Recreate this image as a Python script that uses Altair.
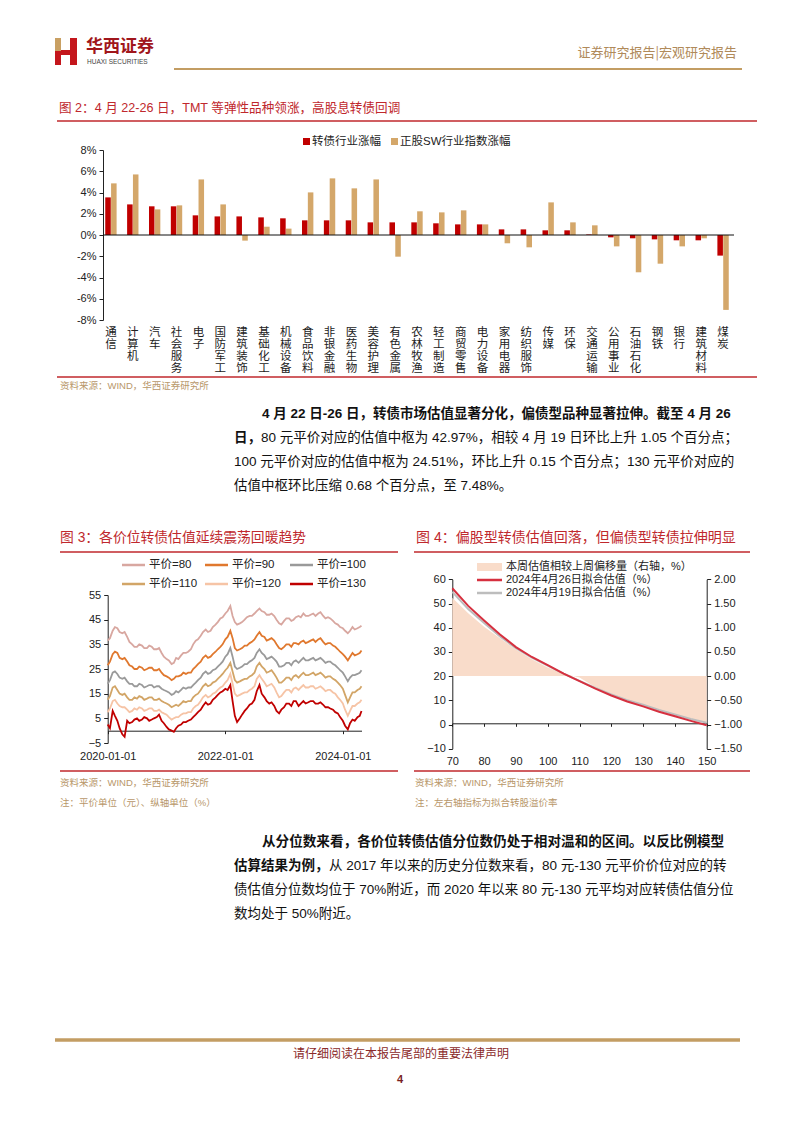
import altair as alt
import pandas as pd

W, H = 802, 1133
CJK = "Noto Sans CJK SC"
MIX = "Liberation Sans, Noto Sans CJK SC"
RED = "#C0282D"
GOLD_TXT = "#B8976A"

# ---------------- Figure 2 data ----------------
industries = ["通信", "计算机", "汽车", "社会服务", "电子", "国防军工", "建筑装饰", "基础化工",
              "机械设备", "食品饮料", "非银金融", "医药生物", "美容护理", "有色金属", "农林牧渔",
              "轻工制造", "商贸零售", "电力设备", "家用电器", "纺织服饰", "传媒", "环保", "交通运输",
              "公用事业", "石油石化", "钢铁", "银行", "建筑材料", "煤炭"]
cb_change = [3.54, 2.88, 2.70, 2.70, 1.85, 1.75, 1.75, 1.66, 1.57, 1.38, 1.38, 1.38, 1.19, 1.19, 1.19,
             1.10, 1.00, 1.00, 0.53, 0.53, 0.44, 0.44, 0.05, -0.22, -0.31, -0.41, -0.50, -0.50, -1.94]
eq_change = [4.86, 5.70, 2.41, 2.79, 5.23, 2.88, -0.53, 0.78, 0.60, 4.01, 5.33, 4.39, 5.23, -2.04, 2.23,
             2.13, 2.32, 1.00, -0.78, -1.16, 3.07, 1.19, 0.91, -1.07, -3.51, -2.70, -1.07, -0.31, -7.05]
bar_series = ["转债行业涨幅", "正股SW行业指数涨幅"]
bar_colors = ["#C00000", "#D4A76A"]
bar_ticks = [-8, -6, -4, -2, 0, 2, 4, 6, 8]

# ---------------- Figure 3 data (semi-monthly readings) ----------------
dates3 = []
for d in pd.date_range("2020-01-01", "2024-04-01", freq="MS"):
    dates3.append(d.strftime("%Y-%m-01"))
    dates3.append(d.strftime("%Y-%m-15"))
dates3.append("2024-04-26")

v80 = [36.5, 37.5, 40.5, 42.0, 41.5, 40.0, 39.5, 40.0, 38, 36.0, 35, 34.0, 34, 35.0, 34.5, 33.5, 33.5, 34.5, 34, 33.0, 33, 33.5, 31.5, 30.0,
       29, 28.5, 27, 27.5, 29.5, 29.0, 30.5, 31.5, 31.5, 32.0, 33, 35.0, 36.5, 37.0, 38.5, 40.0, 41, 40.0, 40.5, 42.0, 43, 44.0, 45.5, 46.0,
       47.5, 48.5, 50.5, 46.5, 44, 43.0, 43.5, 44.0, 45, 46.0, 46.5, 46.5, 47.5, 48.5, 49.5, 48.5, 48, 47.0, 47, 47.5, 46.5, 45.0, 43.5, 43.0,
       44.5, 45.5, 45.5, 44.5, 45, 46.0, 46.5, 46.0, 47.5, 46.5, 46.5, 47.0, 47.5, 46.5, 47.5, 48.0, 46.5, 45.5, 46, 45.5, 44.5, 43.5, 43, 42.0,
       41.5, 40.5, 39.5, 40.5, 42, 41.0, 41.5, 42.0, 42.5]
v90 = [26.5, 28.0, 31, 32.0, 31.5, 29.5, 29, 29.5, 28, 26.5, 26, 25.0, 25, 26.0, 25.5, 24.5, 25, 25.5, 25.5, 24.5, 24.5, 25.0, 23.5, 22.5,
       22, 21.5, 20.5, 21.0, 22, 22.0, 22.5, 23.5, 23, 23.5, 23.5, 25.0, 26, 27.0, 28, 29.5, 30.5, 29.5, 30, 31.0, 32, 33.0, 34, 35.0,
       37, 38.0, 40.5, 37.5, 33.5, 32.5, 33, 33.5, 34.5, 34.5, 35.5, 36.0, 37, 38.5, 40, 38.5, 38, 36.5, 37, 37.5, 36.5, 35.0, 33.5, 33.0,
       34, 35.0, 35, 34.0, 35.5, 35.5, 35, 36.0, 36.5, 35.5, 36, 36.5, 37, 36.0, 37, 37.5, 36, 35.0, 35.5, 35.5, 34.5, 34.0, 33, 32.0,
       31, 30.0, 28.5, 30.0, 31.5, 30.5, 31, 31.5, 32.5]
v100 = [19, 20.5, 23.5, 24.0, 23, 21.5, 21, 21.5, 20, 19.0, 19, 18.0, 18, 19.0, 18.5, 17.5, 18, 18.5, 18.5, 17.5, 18, 18.0, 17, 16.5,
        16, 15.5, 14.5, 15.0, 16, 15.5, 16.5, 17.5, 17, 17.5, 17.5, 18.5, 19.5, 20.5, 21.5, 23.0, 24, 23.0, 23.5, 24.5, 25, 26.0, 27, 28.0,
        30, 31.0, 33.5, 30.0, 26, 25.0, 25.5, 26.0, 27, 27.0, 28, 28.5, 29.5, 31.5, 33, 31.5, 30.5, 29.0, 29.5, 30.0, 29, 28.0, 26, 26.0,
        26.5, 27.5, 27.5, 26.5, 28, 28.5, 27.5, 28.5, 29.5, 28.5, 28.5, 29.0, 29.5, 28.5, 29, 29.5, 28.5, 27.5, 28, 28.0, 27, 26.5, 25.5, 24.5,
        23.5, 22.0, 20, 21.5, 22.5, 22.5, 23, 23.5, 24.5]
v110 = [12.5, 14.0, 17.5, 18.0, 16.5, 15.0, 14.5, 15.0, 13.5, 12.5, 12.5, 13.5, 13, 14.0, 13.5, 12.5, 13, 13.5, 13.5, 12.5, 12.5, 13.0, 12, 11.5,
        11, 10.5, 9.5, 10.0, 10.5, 10.0, 11, 12.0, 11.5, 12.0, 12, 13.5, 14.5, 15.0, 16.5, 18.0, 19, 18.0, 18.5, 19.5, 20, 21.0, 22, 23.0,
        24.5, 25.5, 27.5, 24.0, 20.5, 19.5, 20, 20.5, 21, 21.0, 22, 22.5, 23.5, 26.0, 27.5, 26.0, 25, 23.5, 24, 24.5, 23, 21.5, 19.5, 19.5,
        20.5, 21.5, 21.5, 20.5, 22, 22.5, 21.5, 22.5, 23.5, 22.5, 22.5, 23.0, 23.5, 22.5, 23, 23.5, 22.5, 21.5, 22, 22.0, 21, 20.5, 19.5, 18.5,
        17, 14.5, 11.5, 13.5, 15.5, 15.5, 16.5, 17.0, 18]
v120 = [7.5, 9.0, 12, 12.5, 11, 10.0, 9.5, 9.5, 8.5, 7.5, 8, 9.0, 8.5, 9.5, 9, 8.0, 8.5, 9.0, 9, 8.0, 8, 8.5, 7.5, 7.0,
        6.5, 5.5, 4.5, 5.0, 5.5, 5.5, 6.5, 7.0, 7, 7.5, 7.5, 9.0, 10, 10.5, 12, 13.5, 14.5, 13.5, 14, 15.0, 15.5, 16.5, 17.5, 18.0,
        19.5, 20.5, 23, 19.0, 15, 14.0, 14.5, 15.0, 15.5, 15.5, 16.5, 17.0, 18, 21.0, 22.5, 21.0, 19.5, 18.0, 18.5, 19.0, 17.5, 15.5, 13.5, 14.0,
        15.5, 16.5, 16.5, 15.5, 17, 17.5, 16.5, 17.5, 18.5, 17.5, 17.5, 18.0, 18, 17.0, 17.5, 18.0, 17, 16.0, 16.5, 16.5, 15.5, 15.0, 13.5, 12.5,
        11, 8.5, 6, 8.0, 10, 10.0, 11, 11.5, 12.5]
v130 = [2.5, 1.0, 8, 6.0, 4, 1.0, -1.5, -2.5, 4, 3.0, 3.5, 4.5, 5, 4.0, 4.5, 5.5, 5, 4.0, 4.5, 5.0, 5.5, 6.5, 4, 3.0,
        1.5, 0.5, 0, -0.5, 1, 2.0, 2.5, 3.5, 3.5, 4.0, 4.5, 5.5, 6.5, 7.5, 8.5, 10.0, 11.5, 10.5, 11, 12.5, 13.5, 14.5, 15.5, 16.0,
        17, 16.5, 18.5, 12.0, 6, 3.5, 5, 6.5, 8, 9.0, 10.5, 11.0, 12.5, 16.0, 18.5, 15.0, 13.5, 12.0, 11, 11.5, 10, 8.0, 7, 8.5,
        9.5, 11.0, 11, 10.0, 12, 12.0, 10, 11.0, 12, 11.0, 11.5, 12.0, 12, 11.0, 11, 11.5, 10.5, 9.5, 9.5, 9.0, 8.5, 7.5, 7, 5.5,
        4, 2.0, 0.5, 3.0, 4.5, 4.0, 5.5, 6.0, 8]
series3 = ["平价=80", "平价=90", "平价=100", "平价=110", "平价=120", "平价=130"]
colors3 = ["#D8A7A0", "#E0782E", "#9A9A9A", "#D2A567", "#F6C4A6", "#C00000"]
y3_ticks = [-5, 5, 15, 25, 35, 45, 55]

# ---------------- Figure 4 data ----------------
parity = [70, 75, 80, 85, 90, 95, 100, 105, 110, 115, 120, 125, 130, 135, 140, 145, 150]
fit_0426 = [56.3, 49.0, 42.97, 37.2, 32.0, 27.9, 24.51, 21.0, 17.9, 14.8, 12.0, 9.5, 7.48, 5.3, 3.4, 1.5, -0.3]
fit_0419 = [54.8, 47.7, 41.92, 36.4, 31.5, 27.6, 24.36, 21.0, 18.0, 15.1, 12.4, 10.0, 8.16, 6.0, 4.1, 2.3, 0.7]
shift = [1.62, 1.30, 1.02, 0.78, 0.55, 0.35, 0.18, 0.05, -0.03, -0.23, -0.39, -0.50, -0.60, -0.70, -0.80, -0.89, -0.97]
x4_ticks = [70, 80, 90, 100, 110, 120, 130, 140, 150]
yl4_ticks = [-10, 0, 10, 20, 30, 40, 50, 60]
yr4_ticks = [-1.5, -1.0, -0.5, 0.0, 0.5, 1.0, 1.5, 2.0]

ONE = alt.Data(values=[{"k": 1}])


def text(s, x, y, size=12, color="#222", align="left", weight="normal", font=MIX, baseline="middle"):
    return alt.Chart(ONE).mark_text(text=s, fontSize=size, color=color, align=align, fontWeight=weight,
                                    font=font, baseline=baseline).encode(x=alt.value(x), y=alt.value(y))


def hline(x1, x2, y, color, width=1.0):
    return alt.Chart(ONE).mark_rule(color=color, strokeWidth=width).encode(
        x=alt.value(x1), x2=alt.value(x2), y=alt.value(y))


def box(x1, x2, y1, y2, color):
    return alt.Chart(ONE).mark_rect(color=color).encode(
        x=alt.value(x1), x2=alt.value(x2), y=alt.value(y1), y2=alt.value(y2))


axis_common = dict(title=None, grid=False, labelFont="Liberation Sans", labelFontSize=11, labelColor="#222",
                   domainColor="#222", tickColor="#222", domainWidth=1, tickWidth=1)

# ---------------- Figure 2 chart ----------------
bar_df = pd.DataFrame({
    "industry": industries * 2,
    "series": [bar_series[0]] * len(industries) + [bar_series[1]] * len(industries),
    "value": cb_change + eq_change,
})
# one row per character of each (vertically written) industry name
lab_df = pd.DataFrame([{"industry": ind, "char": ch, "row": i}
                       for ind in industries for i, ch in enumerate(ind)])


def band_x():
    return alt.X("industry:N", sort=industries,
                 scale=alt.Scale(domain=industries, range=[100, 734], paddingInner=0.48, paddingOuter=0.24),
                 axis=None)


yb_scale = alt.Scale(domain=[-8, 8], range=[320, 150], nice=False)
yb_axis = alt.Axis(orient="left", offset=-103, values=bar_ticks, labelExpr="datum.value + '%'",
                   tickSize=4, labelPadding=3, **axis_common)
bars = alt.Chart(bar_df).mark_bar().encode(
    x=band_x(),
    xOffset=alt.XOffset("series:N", sort=bar_series, scale=alt.Scale(domain=bar_series, paddingInner=0.05)),
    y=alt.Y("value:Q", scale=yb_scale, axis=yb_axis, stack=None),
    color=alt.Color("series:N", scale=alt.Scale(domain=bar_series, range=bar_colors), legend=None),
)
zero_b = alt.Chart(ONE).mark_rule(color="#111", strokeWidth=1).encode(
    y=alt.YDatum(0, type="quantitative", scale=yb_scale, axis=yb_axis),
    x=alt.value(103), x2=alt.value(734))
fig2 = alt.layer(bars, zero_b)
labels_b = alt.Chart(lab_df).mark_text(baseline="middle", align="center", fontSize=11.5,
                                       font=CJK, color="#222").encode(
    x=band_x(),
    y=alt.Y("row:Q", scale=alt.Scale(domain=[0, 3], range=[333, 369.3], nice=False, zero=False), axis=None),
    text="char:N")

# ---------------- Figure 3 chart ----------------
df3 = pd.DataFrame({
    "date": dates3 * 6,
    "series": sum([[s] * len(dates3) for s in series3], []),
    "value": v80 + v90 + v100 + v110 + v120 + v130,
})
x3 = alt.X("date:T",
           scale=alt.Scale(type="utc", domain=[alt.DateTime(year=2020, month=1, date=1, utc=True),
                                               alt.DateTime(year=2024, month=4, date=26, utc=True)],
                           range=[107.7, 361.5], nice=False),
           axis=alt.Axis(orient="bottom", offset=-(H - 730.7),
                         values=[alt.DateTime(year=2020, month=1, date=1, utc=True),
                                 alt.DateTime(year=2022, month=1, date=1, utc=True),
                                 alt.DateTime(year=2024, month=1, date=1, utc=True)],
                         labelExpr="utcFormat(datum.value, '%Y-%m-%d')", tickSize=3, labelPadding=17,
                         labelOverlap=False, labelFlush=False, **axis_common))
y3 = alt.Y("value:Q", scale=alt.Scale(domain=[-5, 55], range=[743, 595], nice=False, zero=False),
           axis=alt.Axis(orient="left", offset=-107.7, values=y3_ticks, tickSize=4, labelPadding=3, **axis_common))
fig3 = alt.Chart(df3).mark_line(strokeWidth=1.8).encode(
    x=x3, y=y3,
    color=alt.Color("series:N", scale=alt.Scale(domain=series3, range=colors3), legend=None),
)

# ---------------- Figure 4 chart ----------------
df4 = pd.DataFrame({"parity": parity, "fit_0426": fit_0426, "fit_0419": fit_0419, "shift": shift})
x4 = alt.X("parity:Q", scale=alt.Scale(domain=[70, 150], range=[452.3, 706.7], nice=False, zero=False),
           axis=alt.Axis(orient="bottom", offset=-(H - 723.3), values=x4_ticks, tickSize=3, labelPadding=29,
                         labelFlush=False, **axis_common))
yl4_scale = alt.Scale(domain=[-10, 60], range=[748.7, 579.3], nice=False, zero=False)
yl4_axis = alt.Axis(orient="left", offset=-452.3, values=yl4_ticks, tickSize=4, labelPadding=3, **axis_common)
area4 = alt.Chart(df4).mark_area(color="#F9DCCA").encode(
    x=x4,
    y=alt.Y("shift:Q", scale=alt.Scale(domain=[-1.5, 2.0], range=[748.7, 579.3], nice=False, zero=False),
            axis=alt.Axis(orient="right", offset=-(W - 706.7), values=yr4_ticks, format=".2f", tickSize=4,
                          labelPadding=3, **axis_common)),
    y2=alt.Y2Datum(0),
)
line_0419 = alt.Chart(df4).mark_line(strokeWidth=2, color="#BDBDBD").encode(
    x=x4, y=alt.Y("fit_0419:Q", scale=yl4_scale, axis=yl4_axis))
line_0426 = alt.Chart(df4).mark_line(strokeWidth=2, color="#D6303F").encode(
    x=x4, y=alt.Y("fit_0426:Q", scale=yl4_scale, axis=yl4_axis))
fig4 = alt.layer(area4, alt.layer(line_0419, line_0426)).resolve_scale(y="independent")

# ---------------- page decoration ----------------
decor = [
    # header logo
    box(55, 61, 38, 51, "#C9A063"),
    box(55, 61, 51, 65, "#C4161C"),
    box(70, 77, 38, 65, "#C4161C"),
    box(61, 70, 50, 55, "#C4161C"),
    text("华西证券", 86, 47, size=17, color="#A0161B", weight="bold", font=CJK),
    text("HUAXI SECURITIES", 87, 62, size=6.5, color="#444", font="Liberation Sans"),
    text("证券研究报告|宏观研究报告", 737, 53, size=13, color="#B08A5A", align="right", font=CJK),
    hline(174, 742, 69, "#C39D63", 2.2),
    # fig 2
    text("图 2：4 月 22-26 日，TMT 等弹性品种领涨，高股息转债回调", 59, 108, size=12.6, color=RED),
    hline(57, 757, 121, RED, 1.3),
    box(303, 310, 138, 145, bar_colors[0]),
    text(bar_series[0], 312, 142, size=11.5, color="#222"),
    box(391, 398, 138, 145, bar_colors[1]),
    text(bar_series[1], 400, 142, size=11.5, color="#222"),
    hline(57, 757, 377, RED, 1.3),
    text("资料来源：WIND，华西证券研究所", 60, 386, size=9.5, color=GOLD_TXT),
    # paragraph 1
    text("4 月 22 日-26 日，转债市场估值显著分化，偏债型品种显著拉伸。截至 4 月 26", 262, 414, size=13.5,
         color="#111", weight="bold"),
    text("日，", 234, 438, size=13.5, color="#111", weight="bold"),
    text("80 元平价对应的估值中枢为 42.97%，相较 4 月 19 日环比上升 1.05 个百分点；", 261, 438, size=13.5,
         color="#111"),
    text("100 元平价对应的估值中枢为 24.51%，环比上升 0.15 个百分点；130 元平价对应的", 234, 462, size=13.5,
         color="#111"),
    text("估值中枢环比压缩 0.68 个百分点，至 7.48%。", 234, 486, size=13.5, color="#111"),
    # fig 3 frame
    text("图 3：各价位转债估值延续震荡回暖趋势", 60, 538, size=13.8, color=RED),
    hline(60, 398, 552, RED, 1.3),
    hline(60, 398, 771, RED, 1.3),
    text("资料来源：WIND，华西证券研究所", 60, 783, size=9.5, color=GOLD_TXT),
    text("注：平价单位（元）、纵轴单位（%）", 60, 803, size=9.5, color=GOLD_TXT),
    # fig 4 frame
    text("图 4：偏股型转债估值回落，但偏债型转债拉伸明显", 416, 538, size=14, color=RED),
    hline(414, 750, 552, RED, 1.3),
    hline(414, 750, 771, RED, 1.3),
    text("资料来源：WIND，华西证券研究所", 415, 783, size=9.5, color=GOLD_TXT),
    text("注：左右轴指标为拟合转股溢价率", 415, 803, size=9.5, color=GOLD_TXT),
    # fig 4 legend
    box(477, 502, 563, 571, "#F9DCCA"),
    text("本周估值相较上周偏移量（右轴，%）", 506, 567, size=11, color="#222"),
    hline(477, 502, 580, "#D6303F", 2.5),
    text("2024年4月26日拟合估值（%）", 506, 580, size=11, color="#222"),
    hline(477, 502, 593, "#BDBDBD", 2.5),
    text("2024年4月19日拟合估值（%）", 506, 593, size=11, color="#222"),
    # paragraph 2
    text("从分位数来看，各价位转债估值分位数仍处于相对温和的区间。以反比例模型", 262, 842, size=13.6,
         color="#111", weight="bold"),
    text("估算结果为例，", 234, 866, size=13.5, color="#111", weight="bold"),
    text("从 2017 年以来的历史分位数来看，80 元-130 元平价价位对应的转", 329, 866, size=13.5, color="#111"),
    text("债估值分位数均位于 70%附近，而 2020 年以来 80 元-130 元平均对应转债估值分位", 234, 890, size=13.5,
         color="#111"),
    text("数均处于 50%附近。", 234, 914, size=13.5, color="#111"),
    # footer
    hline(55, 740, 1040, "#C39D63", 3.5),
    text("请仔细阅读在本报告尾部的重要法律声明", 401, 1054, size=12, color="#8B2A2A", align="center", font=CJK),
    text("4", 400, 1080, size=11, color="#7A1F1F", align="center", weight="bold", font="Liberation Sans"),
]

# fig 3 legend
leg3_pos = [(122, 565), (205, 565), (290, 565), (122, 584), (205, 584), (290, 584)]
for (lx, ly), name, col in zip(leg3_pos, series3, colors3):
    decor.append(hline(lx, lx + 23, ly, col, 2.5))
    decor.append(text(name, lx + 27, ly, size=11.5, color="#222"))

chart = alt.layer(fig2, labels_b, fig3, fig4, *decor).resolve_scale(
    x="independent", y="independent", color="independent"
).properties(
    width=W, height=H, autosize=alt.AutoSizeParams(type="none"), padding=0, background="white"
).configure_view(stroke=None)

chart.save("out.html", embed_options={"renderer": "svg", "actions": False})
